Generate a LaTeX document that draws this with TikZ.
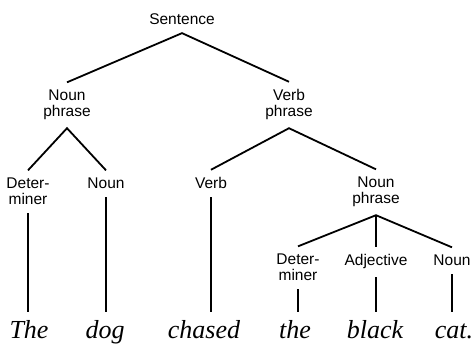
\documentclass[tikz,border=0pt]{standalone}
\usepackage{fontspec}
\setmainfont{Liberation Sans}
\newfontfamily\wordfont{Liberation Serif}
\usetikzlibrary{positioning}

\begin{document}
\begin{tikzpicture}[x=1pt,y=-1pt,line cap=butt,
  syn/.style={font=\fontsize{15.5}{16}\selectfont,align=center,
    inner sep=0pt,outer xsep=0pt,outer ysep=8pt,anchor=base},
  word/.style={font=\wordfont\itshape\fontsize{26}{26}\selectfont,
    inner sep=0pt,text height=17pt,outer ysep=10pt,anchor=base},
  branch/.style={line width=1.8pt}]
\useasboundingbox (0,0) rectangle (472,344);
% sentence and phrases (base = last line)
\node[syn] (s)   at (182,25)  {Sentence};
\node[syn] (np1) at (67,117)  {Noun\\phrase};
\node[syn] (vp)  at (289,117) {Verb\\phrase};
% word classes
\node[syn] (det1) at (28,205)  {Deter-\\miner};
\node[syn] (n1)   at (106,189) {Noun};
\node[syn] (v)    at (211,189) {Verb};
\node[syn] (np2)  at (376,204) {Noun\\phrase};
\node[syn] (det2) at (298,281) {Deter-\\miner};
\node[syn] (adj)  at (376,266) {Adjective};
\node[syn] (n2)   at (452,266) {Noun};
% the words
\node[word] (w1) at (29,339)  {The};
\node[word] (w2) at (105,339) {dog};
\node[word] (w3) at (204,339) {chased};
\node[word] (w4) at (295,339) {the};
\node[word] (w5) at (375,339) {black};
\node[word] (w6) at (454,339) {cat.};
% branches
\draw[branch] (np1.north) -- (s.south) -- (vp.north);
\draw[branch] (det1.north) -- (np1.south) -- (n1.north);
\draw[branch] (v.north) -- (vp.south) -- (np2.north);
\draw[branch] (det2.north) -- (np2.south) -- (n2.north);
\draw[branch] (np2.south) -- (adj.north);
% down to the words
\draw[branch] (det1.south) -- (det1.south |- w1.north);
\draw[branch] (n1.south) -- (n1.south |- w2.north);
\draw[branch] (v.south) -- (v.south |- w3.north);
\draw[branch] (det2.south) -- (det2.south |- w4.north);
\draw[branch] (adj.south) -- (adj.south |- w5.north);
\draw[branch] (n2.south) -- (n2.south |- w6.north);
\end{tikzpicture}
\end{document}
